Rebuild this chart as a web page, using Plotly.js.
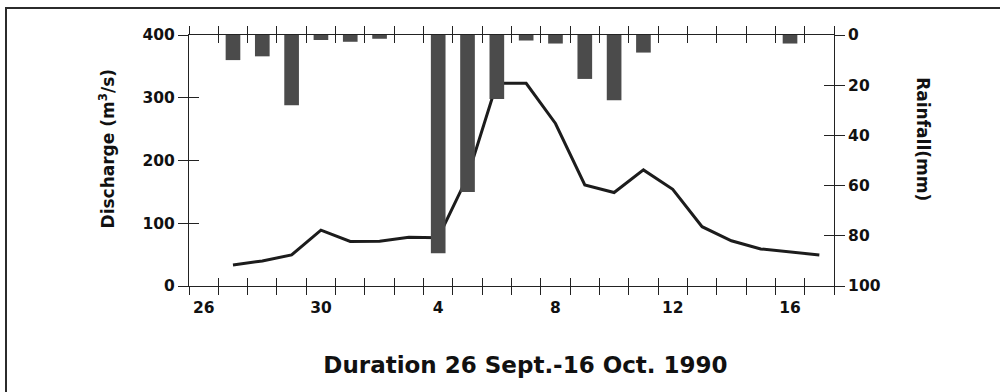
<!DOCTYPE html>
<html>
<head>
<meta charset="utf-8">
<script src="https://cdn.plot.ly/plotly-3.0.1.min.js"></script>
<style>
  html, body { margin: 0; padding: 0; background: #fff; }
  #wrap { position: relative; width: 1000px; height: 392px; overflow: hidden; }
  #chart { width: 1000px; height: 392px; }
  #frame {
    position: absolute; left: 5px; top: 7px; width: 1010px; height: 400px;
    border-left: 2px solid #2b2b2b; border-top: 2px solid #2b2b2b;
    pointer-events: none;
  }
</style>
</head>
<body>
<div id="wrap">
  <div id="chart"></div>
  <div id="frame"></div>
</div>
<script>
// Days from 26 Sept. to 17 Oct. 1990
const days = ['26', '27', '28', '29', '30', '1', '2', '3', '4', '5', '6',
              '7', '8', '9', '10', '11', '12', '13', '14', '15', '16', '17'];

// Daily rainfall (mm), hanging bars from the top axis
const rainfall = [0, 10, 8.5, 28, 2, 2.7, 1.5, 0, 87, 62.5, 25.5, 2.2, 3.4,
                  17.5, 26, 7, 0, 0, 0, 0, 3.4, 0];

// Daily discharge (m3/s)
const discharge = [null, 33.5, 40, 49.5, 89, 71, 71.5, 77.5, 77, 174, 323,
                   323, 259, 161, 149, 185, 154, 94.5, 72, 59, 54, 49.5];

// Days carrying a tick label
const labelledDays = ['26', '30', '4', '8', '12', '16'];

const dischargeTicks = [0, 100, 200, 300, 400];
const rainfallTicks = [0, 20, 40, 60, 80, 100];

const pos = days.map((d, i) => i);
const labelPos = labelledDays.map(d => days.indexOf(d));
// Tick marks sit on the boundaries between days
const boundaries = days.map((d, i) => i - 0.5).concat([days.length - 0.5]);
const xRange = [-0.5, days.length - 0.5];

const FONT = 'DejaVu Sans';
const ink = '#111111';
const axisInk = '#222222';
const tickFont = { family: FONT, size: 15.5, weight: 'bold', color: ink };

// an empty trace keeps a helper axis on the page
const holder = (xa, ya) => ({
  type: 'scatter', mode: 'lines', x: [null], y: [null],
  xaxis: xa, yaxis: ya, hoverinfo: 'skip', showlegend: false
});

const traces = [
  {
    type: 'bar',
    x: pos,
    y: rainfall,
    xaxis: 'x',
    yaxis: 'y2',
    width: 0.5,
    marker: { color: '#4b4b4b', line: { width: 0 } },
    hoverinfo: 'skip'
  },
  {
    type: 'scatter',
    mode: 'lines',
    x: pos,
    y: discharge,
    xaxis: 'x',
    yaxis: 'y',
    line: { color: '#1c1c1c', width: 3 },
    connectgaps: false,
    hoverinfo: 'skip'
  },
  holder('x2', 'y'),
  holder('x3', 'y'),
  holder('x', 'y3'),
  holder('x', 'y4')
];

const baseX = {
  range: xRange, showgrid: false, zeroline: false, fixedrange: true,
  linecolor: axisInk, linewidth: 1, tickcolor: axisInk, tickwidth: 1
};

const layout = {
  width: 1000,
  height: 392,
  margin: { l: 189, r: 166, t: 35, b: 106, pad: 0 },
  paper_bgcolor: '#ffffff',
  plot_bgcolor: '#ffffff',
  showlegend: false,
  font: { family: FONT, color: ink, weight: 'bold' },
  title: {
    text: 'Duration 26 Sept.-16 Oct. 1990',
    font: { family: FONT, size: 23, weight: 'bold', color: ink },
    xref: 'container', yref: 'container',
    x: 0.5255, y: 0.07, xanchor: 'center', yanchor: 'middle'
  },
  // outward ticks on the day boundaries, mirrored to the top edge
  xaxis: Object.assign({}, baseX, {
    anchor: 'y',
    showline: true, mirror: 'ticks',
    tickmode: 'array', tickvals: boundaries,
    ticks: 'outside', ticklen: 8, showticklabels: false
  }),
  // inward ticks, so each mark crosses the axis line
  xaxis2: Object.assign({}, baseX, {
    overlaying: 'x', anchor: 'y',
    showline: true, mirror: 'ticks',
    tickmode: 'array', tickvals: boundaries,
    ticks: 'inside', ticklen: 8, showticklabels: false
  }),
  // day labels, centred under each labelled day
  xaxis3: Object.assign({}, baseX, {
    overlaying: 'x', anchor: 'y',
    showline: false,
    tickmode: 'array', tickvals: labelPos, ticktext: labelledDays,
    ticks: '', ticklabelstandoff: 10, tickfont: tickFont
  }),
  yaxis: {
    range: [0, 400], side: 'left', showgrid: false, zeroline: false, fixedrange: true,
    showline: true, linecolor: axisInk, linewidth: 1,
    tickmode: 'array', tickvals: dischargeTicks,
    ticks: 'outside', ticklen: 10, tickcolor: axisInk, tickwidth: 1,
    tickfont: tickFont
  },
  yaxis3: {
    overlaying: 'y', anchor: 'x', range: [0, 400], side: 'left', showgrid: false,
    zeroline: false, fixedrange: true, showline: false,
    tickmode: 'array', tickvals: dischargeTicks,
    ticks: 'inside', ticklen: 10, tickcolor: axisInk, tickwidth: 1,
    showticklabels: false
  },
  yaxis2: {
    overlaying: 'y', anchor: 'x', range: [100, 0], side: 'right', showgrid: false,
    zeroline: false, fixedrange: true, showline: true, linecolor: axisInk, linewidth: 1,
    tickmode: 'array', tickvals: rainfallTicks,
    ticks: 'outside', ticklen: 10, tickcolor: axisInk, tickwidth: 1,
    tickfont: tickFont
  },
  yaxis4: {
    overlaying: 'y', anchor: 'x', range: [100, 0], side: 'right', showgrid: false,
    zeroline: false, fixedrange: true, showline: false,
    tickmode: 'array', tickvals: rainfallTicks,
    ticks: 'inside', ticklen: 10, tickcolor: axisInk, tickwidth: 1,
    showticklabels: false
  },
  annotations: [
    {
      text: 'Discharge (m<sup>3</sup>/s)',
      xref: 'paper', yref: 'paper', x: -0.1271, y: 0.548,
      xanchor: 'center', yanchor: 'middle', textangle: -90, showarrow: false,
      font: { family: FONT, size: 17, weight: 'bold', color: ink }
    },
    {
      text: 'Rainfall(mm)',
      xref: 'paper', yref: 'paper', x: 1.1375, y: 0.586,
      xanchor: 'center', yanchor: 'middle', textangle: 90, showarrow: false,
      font: { family: FONT, size: 17, weight: 'bold', color: ink }
    }
  ]
};

Plotly.newPlot('chart', traces, layout, { staticPlot: true, displayModeBar: false });
</script>
</body>
</html>
